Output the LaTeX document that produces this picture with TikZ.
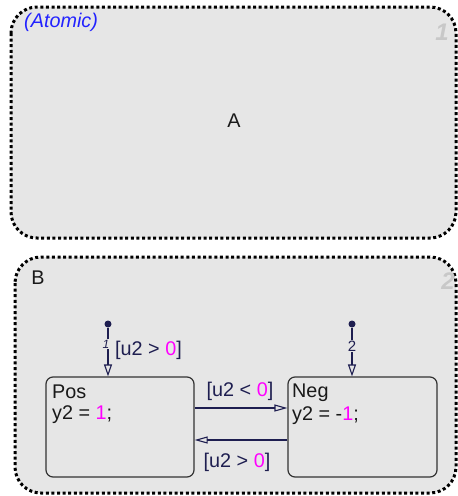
\documentclass[tikz,border=0pt]{standalone}
\usepackage{fontspec}
\setmainfont{Liberation Sans}
\usetikzlibrary{arrows.meta}
\definecolor{boxfill}{HTML}{E6E6E6}
\definecolor{navy}{HTML}{1E1E50}
\definecolor{mag}{HTML}{FF00FF}
\definecolor{numgray}{HTML}{C8C8C8}
\definecolor{atomblue}{HTML}{2222FF}
\tikzset{
  superbox/.style={fill=boxfill, draw=black, line width=3pt, dash pattern=on 3pt off 2.6pt, rounded corners=26pt},
  statebox/.style={draw=black!80, line width=1.2pt, fill=boxfill, rounded corners=7pt, inner sep=0pt},
  txt/.style={font=\fontsize{19.8}{22}\selectfont, inner sep=0pt, text=black!90},
  ttxt/.style={font=\fontsize{19.8}{22}\selectfont, inner sep=0pt, text=navy},
  bignum/.style={font=\fontsize{24}{26}\selectfont\bfseries\itshape, text=numgray, inner sep=0pt},
  trans/.style={draw=navy, line width=1.2pt, -{Triangle[open, length=13pt, width=7pt, line width=1.1pt]}},
  dtrans/.style={draw=navy, line width=1.2pt, -{Triangle[open, length=12pt, width=8pt, line width=1.1pt]}},
  dot/.style={circle, fill=navy, inner sep=0pt, minimum size=7pt}
}
\begin{document}
\begin{tikzpicture}[x=1pt,y=-1pt]
\useasboundingbox (0,0) rectangle (458,496);
% superstates
\path[superbox] (11,7) rectangle (456,238);
\path[superbox] (15,257) rectangle (456,493);
\node[anchor=west, font=\fontsize{19.8}{22}\selectfont\itshape, text=atomblue, inner sep=0pt] (atomic) at (24,22) {(Atomic)};
\node[bignum] (n1) at (442,32) {1};
\node[txt] (a) at (234,121) {A};
\node[txt] (b) at (38,278) {B};
\node[bignum] (n2) at (448,281) {2};
% states
\node[statebox, minimum width=148pt, minimum height=100pt] (pos) at (120,427) {};
\node[statebox, minimum width=149pt, minimum height=100pt] (neg) at (362.5,427) {};
\node[txt, anchor=west] (postxt1) at (52,392) {Pos};
\node[txt, anchor=west] (postxt2) at (52,415) {y2 = \textcolor{mag}{1};};
\node[txt, anchor=west] (negtxt1) at (292,393) {Neg};
\node[txt, anchor=west] (negtxt2) at (292,416) {y2 = -\textcolor{mag}{1};};
% transitions between states
\draw[trans] (pos.east |- 0,408) -- (neg.west |- 0,408);
\draw[trans] (neg.west |- 0,440) -- (pos.east |- 0,440);
\node[ttxt] (lab1) at (240,391) {[u2 < \textcolor{mag}{0}]};
\node[ttxt] (lab2) at (237,462) {[u2 > \textcolor{mag}{0}]};
% default transitions
\node[dot] (d1) at (108,324) {};
\node[dot] (d2) at (352,324) {};
\draw[dtrans] (d1) -- (d1 |- pos.north);
\draw[dtrans] (d2) -- (d2 |- neg.north);
\node[font=\fontsize{12}{14}\selectfont\itshape, text=navy, fill=boxfill, inner sep=0.5pt] (p1) at (106,344) {1};
\node[ttxt, anchor=west] (lab3) at (115,350) {[u2 > \textcolor{mag}{0}]};
\node[font=\fontsize{15}{17}\selectfont, text=navy, fill=boxfill, inner sep=0.5pt] (p2) at (352,346) {2};
\end{tikzpicture}
\end{document}
